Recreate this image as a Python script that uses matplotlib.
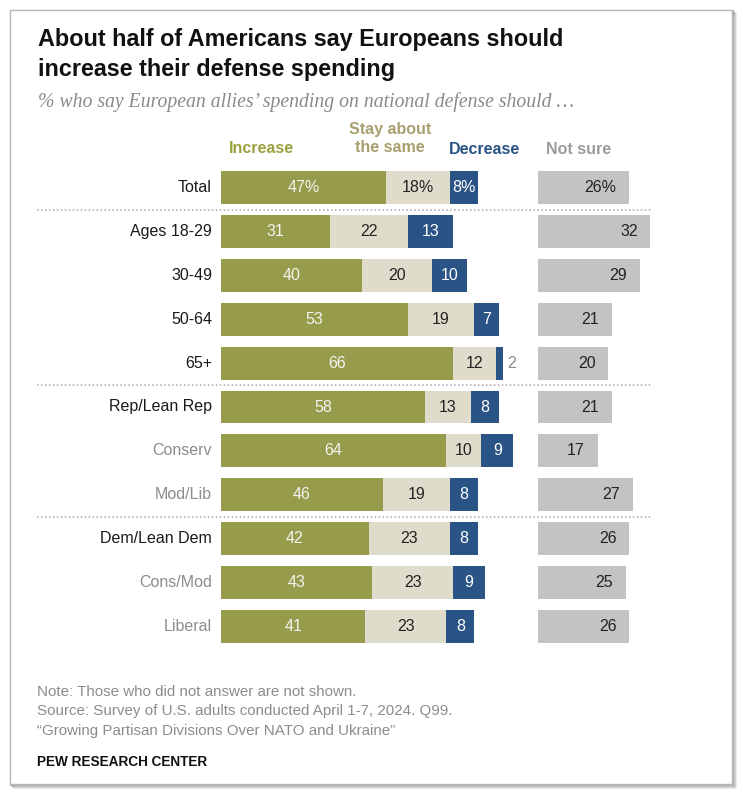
import matplotlib
matplotlib.use('Agg')
import matplotlib.pyplot as plt
from matplotlib.patches import Rectangle

categories = ["Total", "Ages 18-29", "30-49", "50-64", "65+", "Rep/Lean Rep",
              "Conserv", "Mod/Lib", "Dem/Lean Dem", "Cons/Mod", "Liberal"]
increase = [47, 31, 40, 53, 66, 58, 64, 46, 42, 43, 41]
stay = [18, 22, 20, 19, 12, 13, 10, 19, 23, 23, 23]
decrease = [8, 13, 10, 7, 2, 8, 9, 8, 8, 9, 8]
not_sure = [26, 32, 29, 21, 20, 21, 17, 27, 26, 25, 26]
sub_group = [False, False, False, False, False, False, True, True, False, True, True]
series_names = ["Increase", "Stay about\nthe same", "Decrease", "Not sure"]

C_INC = '#969c4b'
C_STAY = '#dfdccb'
C_DEC = '#2b5486'
C_NS = '#c3c3c3'
H_INC = '#9aa33e'
H_STAY = '#a99e6d'
H_NS = '#9b9b9b'

FONT = 'Liberation Sans'
plt.rcParams['font.family'] = [FONT, 'DejaVu Sans']

W, H = 743, 799
fig = plt.figure(figsize=(W / 100, H / 100), dpi=100)
fig.patch.set_facecolor('white')


def fx(x):
    return x / W


def fy(y):
    return 1 - y / H


# frame with soft shadow
for i, a in enumerate([0.10, 0.14, 0.20, 0.28]):
    off = 4 - i
    fig.patches.append(Rectangle((fx(10 + off), fy(784 + off)), 722 / W, 774 / H,
                                 transform=fig.transFigure, facecolor='none',
                                 edgecolor=(0.3, 0.3, 0.3, a), lw=1.5, zorder=-3))
fig.patches.append(Rectangle((fx(10), fy(784)), 722 / W, 774 / H,
                             transform=fig.transFigure, facecolor='white',
                             edgecolor='#b8b8b8', lw=1.0, zorder=-2))

PX = 3.52
X0 = 221
XMAX = 128
TOP, BOT = 166.0, 648.0
ax = fig.add_axes([fx(X0), fy(BOT), XMAX * PX / W, (BOT - TOP) / H])
ax.set_zorder(1)
ax.set_xlim(0, XMAX)
ax.set_ylim(len(categories) - 0.5, -0.5)
ax.axis('off')
ax.patch.set_alpha(0)

NS_LEFT = 90
BH = 0.75
ys = list(range(len(categories)))
left2 = [a + b for a, b in zip(increase, stay)]
left3 = [a + b for a, b in zip(left2, decrease)]
ax.barh(ys, increase, left=0, height=BH, color=C_INC)
ax.barh(ys, stay, left=increase, height=BH, color=C_STAY)
ax.barh(ys, decrease, left=left2, height=BH, color=C_DEC)
ax.barh(ys, not_sure, left=NS_LEFT, height=BH, color=C_NS)

FS = 11.5
for i in ys:
    suf = '%' if i == 0 else ''
    ax.text(increase[i] / 2, i, f"{increase[i]}{suf}", ha='center', va='center',
            color='#f4f4f0', fontsize=FS)
    ax.text(increase[i] + stay[i] / 2, i, f"{stay[i]}{suf}", ha='center', va='center',
            color='#222222', fontsize=FS)
    if decrease[i] >= 4:
        ax.text(left2[i] + decrease[i] / 2, i, f"{decrease[i]}{suf}", ha='center',
                va='center', color='white', fontsize=FS)
    else:
        ax.text(left3[i] + 1.3, i, f"{decrease[i]}{suf}", ha='left', va='center',
                color='#8a8a8a', fontsize=FS)
    ax.text(NS_LEFT + not_sure[i] - 3.6, i, f"{not_sure[i]}{suf}", ha='right',
            va='center', color='#222222', fontsize=FS)
    ax.text((212 - X0) / PX, i, categories[i], ha='right', va='center',
            color='#8c8c8c' if sub_group[i] else '#1a1a1a', fontsize=FS)

# dotted separators
for yv in [0.5, 4.5, 7.5]:
    ax.plot([(37 - X0) / PX, (652 - X0) / PX], [yv, yv], clip_on=False,
            ls=(0, (1, 1.6)), color='#a8a8a8', lw=1.1)

# headers
HFS = 11.5
fig.text(fx(261), fy(153), series_names[0], ha='center', va='baseline',
         color=H_INC, fontsize=HFS, fontweight='bold')
fig.text(fx(390), fy(152), series_names[1], ha='center', va='baseline',
         color=H_STAY, fontsize=HFS, fontweight='bold', linespacing=1.25)
fig.text(fx(485), fy(154), series_names[2], ha='center', va='baseline',
         color=C_DEC, fontsize=HFS, fontweight='bold')
fig.text(fx(579), fy(154), series_names[3], ha='center', va='baseline',
         color=H_NS, fontsize=HFS, fontweight='bold')

# title & subtitle
fig.text(fx(38), fy(46), "About half of Americans say Europeans should",
         ha='left', va='baseline', fontsize=16.8, fontweight='bold', color='#111111')
fig.text(fx(38), fy(76), "increase their defense spending",
         ha='left', va='baseline', fontsize=16.8, fontweight='bold', color='#111111')
fig.text(fx(38), fy(107), "% who say European allies\u2019 spending on national defense should \u2026",
         ha='left', va='baseline', fontsize=14.2, style='italic', color='#8a8a8a',
         family=['Liberation Serif', 'DejaVu Serif'])

# notes
NFS = 10.9
fig.text(fx(37), fy(696), "Note: Those who did not answer are not shown.",
         ha='left', va='baseline', fontsize=NFS, color='#8c8c8c')
fig.text(fx(37), fy(715), "Source: Survey of U.S. adults conducted April 1-7, 2024. Q99.",
         ha='left', va='baseline', fontsize=NFS, color='#8c8c8c')
fig.text(fx(37), fy(735), "\u201cGrowing Partisan Divisions Over NATO and Ukraine\u201d",
         ha='left', va='baseline', fontsize=NFS, color='#8c8c8c')
fig.text(fx(37), fy(766), "PEW RESEARCH CENTER",
         ha='left', va='baseline', fontsize=9.8, fontweight='bold', color='#111111')

fig.savefig('out.png', dpi=100, facecolor='white')
